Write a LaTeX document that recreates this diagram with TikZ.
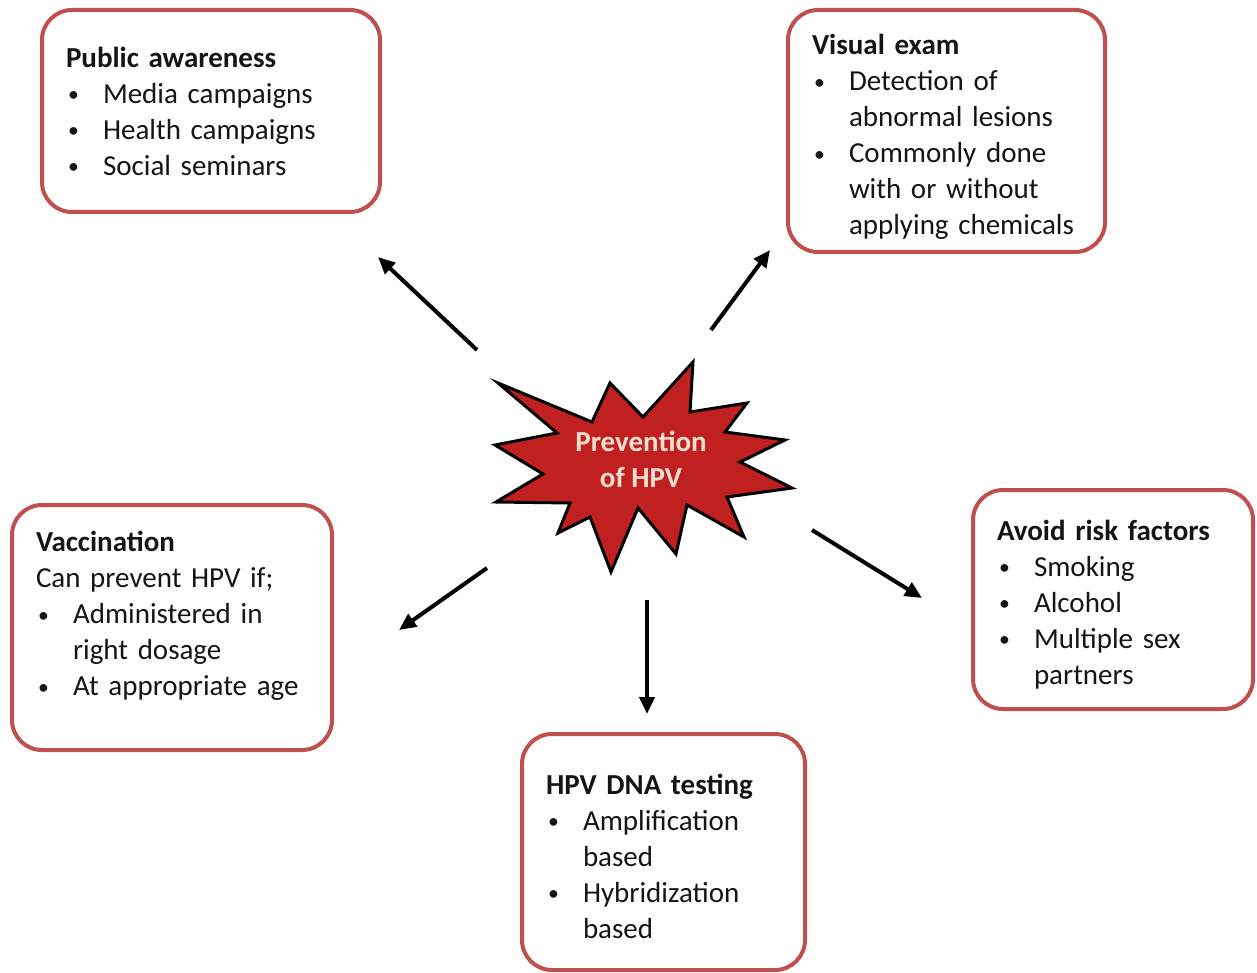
\documentclass[tikz,border=0pt]{standalone}
\usepackage{fontspec}
\setmainfont{Carlito}
\usetikzlibrary{arrows.meta, positioning}
\definecolor{boxred}{HTML}{C0504D}
\definecolor{starred}{HTML}{C0201F}
\definecolor{starink}{HTML}{F4DED2}
\definecolor{ink}{HTML}{151515}

\newcommand{\bul}[1]{\makebox[37pt][l]{\hspace{2pt}\raisebox{1.5pt}{\scalebox{0.75}{\textbullet}}}#1}
\newcommand{\cnt}[1]{\hspace*{37pt}#1}
\newcommand{\pad}[1]{\\[#1]\strut}
\newcommand{\tpad}[1]{\strut\\[#1]}

\begin{document}
\begin{tikzpicture}[x=1pt, y=-1pt, >={Triangle[length=17pt, width=15pt]}, line width=4pt,
  box/.style={draw=boxred, line width=4pt, rounded corners=30pt, fill=white, text=ink,
    align=left, inner xsep=24pt, inner ysep=0pt, font=\fontsize{29}{36}\selectfont},
  arr/.style={->, black, line width=4pt}]

\useasboundingbox (0,0) rectangle (1257,973);

% Star
\filldraw[fill=starred, draw=black, line width=3pt, line join=miter]
  (498,383) -- (592,422) -- (610,383) -- (643,417) -- (693,362) -- (690,412)
  -- (747,403) -- (725,432) -- (785,440) -- (740,462) -- (792,488) -- (727,497)
  -- (744,537) -- (687,505) -- (676,554) -- (638,508) -- (611,572) -- (590,517)
  -- (558,533) -- (570,503) -- (496,502) -- (543,474) -- (495,445) -- (557,433) -- cycle;
\node[font=\bfseries\fontsize{29}{36}\selectfont, text=starink, align=center] (prev) at (641,459) {Prevention\\of HPV};

% Boxes
\node[box, text width=290pt, minimum height=202pt] (pub) at (211,111)
  {\textbf{Public awareness}\\ \bul{Media campaigns}\\ \bul{Health campaigns}\\ \bul{Social seminars}};
\node[box, text width=269pt, minimum height=242pt] (vis) at (946.5,131)
  {\tpad{-29pt}\textbf{Visual exam}\\ \bul{Detection of}\\ \cnt{abnormal lesions}\\ \bul{Commonly done}\\ \cnt{with or without}\\ \cnt{applying chemicals}};
\node[box, text width=272pt, minimum height=245pt] (vac) at (172,627.5)
  {\textbf{Vaccination}\\ Can prevent HPV if;\\ \bul{Administered in}\\ \cnt{right dosage}\\ \bul{At appropriate age}\pad{-19pt}};
\node[box, text width=232pt, minimum height=219pt] (risk) at (1113,599.5)
  {\tpad{-31pt}\textbf{Avoid risk factors}\\ \bul{Smoking}\\ \bul{Alcohol}\\ \bul{Multiple sex}\\ \cnt{partners}};
\node[box, text width=235pt, minimum height=236pt] (dna) at (663.5,852)
  {\tpad{-33pt}\textbf{HPV DNA testing}\\ \bul{Amplification}\\ \cnt{based}\\ \bul{Hybridization}\\ \cnt{based}};

% Arrows
\coordinate (pubS) at (477,350);  \coordinate (pubE) at (378,257);
\coordinate (visS) at (711,330);  \coordinate (visE) at (770,250);
\coordinate (vacS) at (487,568);  \coordinate (vacE) at (399,630);
\coordinate (dnaS) at (647,600);  \coordinate (dnaE) at (647,714);
\coordinate (riskS) at (812,530); \coordinate (riskE) at (922,598);
\draw[arr] (pubS) -- (pubE);
\draw[arr] (visS) -- (visE);
\draw[arr] (vacS) -- (vacE);
\draw[arr] (dnaS) -- (dnaE);
\draw[arr] (riskS) -- (riskE);

\end{tikzpicture}
\end{document}
